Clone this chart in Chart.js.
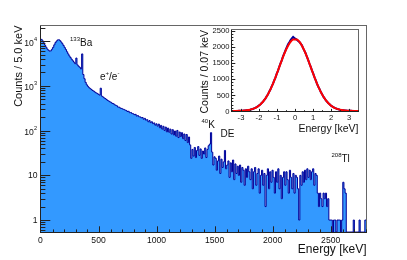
<!DOCTYPE html>
<html>
<head>
<meta charset="utf-8">
<script src="https://cdn.jsdelivr.net/npm/chart.js@4/dist/chart.umd.min.js"></script>
<style>
  html, body { margin: 0; padding: 0; background: #fff; }
  #wrap { position: relative; width: 407px; height: 260px; }
  #wrap canvas { position: absolute; left: 0; top: 0; }
</style>
</head>
<body>
<div id="wrap">
  <canvas id="spectrum" width="407" height="260"></canvas>
  <canvas id="inset" width="407" height="260"></canvas>
</div>
<script>
// main spectrum, 10 keV bins starting at 0 keV (values are counts / 5.0 keV)
const binWidth = 10;
const spectrumCounts = [
  11000, 10200, 9200, 8200, 7400, 6700, 6300, 6000, 6100, 6600,
  7300, 8300, 9300, 10100, 10700, 10800, 10300, 9600, 8800, 8000,
  7200, 6500, 5800, 5200, 4700, 4300, 3950, 3650, 3400, 3150,
  4200, 2950, 2750, 2600, 2400, 5200, 1800, 1450, 1200, 1060,
  980, 915, 870, 835, 790, 765, 730, 700, 680, 650,
  625, 890, 590, 568, 540, 520, 498, 472, 458, 440,
  428, 405, 400, 380, 368, 358, 336, 334, 318, 314,
  304, 298, 288, 283, 268, 271, 252, 255, 242, 238,
  228, 231, 212, 217, 205, 203, 194, 196, 180, 188,
  172, 176, 158, 168, 151, 158, 143, 149, 133, 142,
  126, 140, 116, 131, 108, 125, 101, 120, 94, 114,
  92, 108, 84, 105, 80, 98, 75, 101, 70, 93,
  74, 90, 66, 84, 60, 82, 54, 72, 48, 24,
  38, 27, 42, 25, 36, 44, 28, 39, 24, 35,
  30, 41, 25, 38, 46, 50, 90, 33, 17, 26,
  24, 13, 21, 27, 11, 23, 15, 20, 36, 14,
  17, 21, 9, 19, 12, 22, 8, 18, 11, 16,
  10, 17, 7, 15, 13, 6, 14, 9, 16, 12,
  8, 14, 5, 12, 15, 6, 11, 14, 4, 10,
  13, 6, 11, 2, 10, 14, 5, 12, 7, 13,
  9, 4, 12, 7, 14, 5, 10, 3, 9, 12,
  6, 12, 8, 4, 13, 9, 5, 11, 4, 10,
  9, 5, 1, 10, 6, 12, 7, 13, 8, 14,
  9, 13, 8, 12, 14, 6, 11, 10, 4, 2,
  4, 3, 2, 4, 3, 4, 2, 3, 1, 1,
  1, 0, 1, 1, 0, 1, 1, 1, 0, 1,
  7, 5, 4, 0, 0, 0, 0, 0, 0, 1,
  0, 0, 0, 0, 1, 0, 0, 0, 0, 1,
];
const energyMax = 2800;
const xTicks = [0, 500, 1000, 1500, 2000, 2500];
const yTicks = [1, 10, 100, 1000, 10000];
const yMin = 0.54;
const yMax = 21900;

// inset: residual energy, 0.07 keV bins from -3.5 keV
const residStart = -3.5;
const residWidth = 0.07;
const residCounts = [
  2, 0, 1, 3, 2, 5, 4, 8, 9, 13,
  15, 22, 25, 35, 40, 55, 62, 82, 95, 121,
  140, 175, 200, 248, 282, 340, 385, 458, 512, 600,
  668, 765, 845, 955, 1040, 1160, 1250, 1375, 1480, 1575,
  1700, 1795, 1890, 1990, 2075, 2140, 2210, 2260, 2305, 2270,
  2245, 2215, 2180, 2150, 2095, 2045, 1950, 1870, 1790, 1680,
  1585, 1470, 1370, 1255, 1160, 1045, 955, 845, 755, 680,
  588, 525, 445, 395, 330, 290, 240, 210, 168, 145,
  118, 96, 80, 62, 54, 40, 35, 25, 22, 15,
  13, 11, 8, 7, 5, 3, 2, 2, 1, 1,
];
const fitX = [-3.5, -3.3, -3.1, -2.9, -2.7, -2.5, -2.3, -2.1, -1.9, -1.7, -1.5, -1.3,
  -1.1, -0.9, -0.7, -0.5, -0.3, -0.1, 0.1, 0.3, 0.5, 0.7, 0.9, 1.1,
  1.3, 1.5, 1.7, 1.9, 2.1, 2.3, 2.5, 2.7, 2.9, 3.1, 3.3, 3.5];
const fitY = [0.8, 2, 4.5, 9.8, 20, 40, 74, 130, 218, 347, 524, 752,
  1026, 1328, 1632, 1906, 2113, 2226, 2226, 2113, 1906, 1632, 1328, 1026,
  752, 524, 347, 218, 130, 74, 40, 20, 9.8, 4.5, 2, 0.8];
const insetXTicks = [-3, -2, -1, 0, 1, 2, 3];
const insetYTicks = [0, 500, 1000, 1500, 2000, 2500];

const FONT = '"Liberation Sans", Arial, Helvetica, sans-serif';
const font = (px) => `${px}px ${FONT}`;

// text with superscript runs: [[text, isSup], ...]
const drawRich = (ctx, runs, x, y, size) => {
  let cx = x;
  for (const [text, sup] of runs) {
    ctx.font = font(sup ? size * 0.6 : size);
    ctx.fillText(text, cx, sup ? y - size * 0.5 : y);
    cx += ctx.measureText(text).width;
  }
};

const hLine = (ctx, x1, x2, y) => {
  ctx.beginPath();
  ctx.moveTo(x1, Math.round(y) + 0.5);
  ctx.lineTo(x2, Math.round(y) + 0.5);
  ctx.stroke();
};
const vLine = (ctx, x, y1, y2) => {
  ctx.beginPath();
  ctx.moveTo(Math.round(x) + 0.5, y1);
  ctx.lineTo(Math.round(x) + 0.5, y2);
  ctx.stroke();
};

const drawMainAxes = (chart) => {
  const { ctx, chartArea: a, scales: { x, y } } = chart;
  ctx.save();
  ctx.lineWidth = 1;
  ctx.strokeStyle = '#666';
  ctx.strokeRect(a.left - 0.5, a.top - 0.5, a.right - a.left + 1, a.bottom - a.top + 1);
  ctx.strokeStyle = '#222';
  vLine(ctx, a.left - 1, a.top, a.bottom + 1);
  hLine(ctx, a.left - 1, a.right + 1, a.bottom);

  // x ticks (inside)
  for (let e = 0; e <= energyMax; e += 100) {
    const px = x.getPixelForValue(e);
    const len = e % 500 === 0 ? 6.2 : 3.1;
    vLine(ctx, px - (e === 0 ? 1 : 0), a.bottom + 0.5 - len, a.bottom + 0.5);
  }
  // y ticks (log, inside)
  for (let d = -1; d <= 4; d++) {
    for (let m = 1; m <= 9; m++) {
      const v = m * Math.pow(10, d);
      if (v < yMin || v > yMax) continue;
      const py = y.getPixelForValue(v);
      const len = m === 1 ? 9.8 : 4.9;
      hLine(ctx, a.left - 0.5, a.left - 0.5 + len, py);
    }
  }

  ctx.fillStyle = '#111';
  ctx.font = font(8.6);
  ctx.textAlign = 'center';
  ctx.textBaseline = 'alphabetic';
  for (const t of xTicks) ctx.fillText(String(t), x.getPixelForValue(t) - 0.5, 242.5);

  for (const t of yTicks) {
    const py = y.getPixelForValue(t);
    ctx.textBaseline = 'middle';
    if (t < 100) {
      ctx.textAlign = 'right';
      ctx.font = font(8.6);
      ctx.fillText(String(t), 37.5, py + 0.5);
    } else {
      ctx.textAlign = 'right';
      ctx.font = font(8.6);
      ctx.fillText('10', 33.8, py + 2);
      ctx.textAlign = 'left';
      ctx.font = font(5.6);
      ctx.fillText(String(Math.round(Math.log10(t))), 34, py - 2);
    }
  }

  // axis titles
  ctx.textBaseline = 'alphabetic';
  ctx.textAlign = 'right';
  ctx.font = font(12);
  ctx.fillText('Energy [keV]', a.right + 0.5, 252.5);
  ctx.save();
  ctx.translate(22, a.top - 0.5);
  ctx.rotate(-Math.PI / 2);
  ctx.font = font(11);
  ctx.fillText('Counts / 5.0 keV', 0, 0);
  ctx.restore();

  // peak labels
  ctx.textAlign = 'left';
  ctx.fillStyle = '#111';
  drawRich(ctx, [['133', true], ['Ba', false]], 70, 45.5, 10);
  drawRich(ctx, [['e', false], ['+', true], ['/e', false], ['-', true]], 100, 80, 10);
  drawRich(ctx, [['40', true], ['K', false]], 201.5, 128, 10);
  drawRich(ctx, [['DE', false]], 220.5, 136.5, 10);
  drawRich(ctx, [['208', true], ['Tl', false]], 331.5, 161.5, 10);
  ctx.restore();
};

const drawInsetAxes = (chart) => {
  const { ctx, chartArea: a, scales: { x, y } } = chart;
  ctx.save();
  ctx.lineWidth = 1;
  ctx.strokeStyle = '#666';
  ctx.strokeRect(a.left - 0.5, a.top - 0.5, a.right - a.left + 1, a.bottom - a.top + 1);
  ctx.strokeStyle = '#222';
  vLine(ctx, a.left - 1, a.top, a.bottom + 1);
  hLine(ctx, a.left - 1, a.right + 1, a.bottom);

  for (let v = -3.5; v <= 3.5001; v += 0.5) {
    const major = Math.abs(v - Math.round(v)) < 1e-6;
    const px = x.getPixelForValue(v);
    vLine(ctx, px, a.bottom + 0.5 - (major ? 2.6 : 1.3), a.bottom + 0.5);
  }
  for (let v = 0; v <= 2500; v += 100) {
    const py = y.getPixelForValue(v);
    hLine(ctx, a.left - 0.5, a.left - 0.5 + (v % 500 === 0 ? 3.8 : 1.9), py);
  }

  ctx.fillStyle = '#111';
  ctx.font = font(7.6);
  ctx.textAlign = 'center';
  ctx.textBaseline = 'alphabetic';
  for (const t of insetXTicks) ctx.fillText(String(t), x.getPixelForValue(t), 119.5);
  ctx.textAlign = 'right';
  ctx.textBaseline = 'middle';
  for (const t of insetYTicks) ctx.fillText(String(t), 229.5, y.getPixelForValue(t) + 0.5);

  ctx.textBaseline = 'alphabetic';
  ctx.textAlign = 'right';
  ctx.font = font(10.5);
  ctx.fillText('Energy [keV]', a.right + 0.5, 131.5);
  ctx.save();
  ctx.translate(208, a.top);
  ctx.rotate(-Math.PI / 2);
  ctx.fillText('Counts / 0.07 keV', 0, 0);
  ctx.restore();
  ctx.restore();
};

// main histogram: stepped outline, filled to the axis
const spectrumPoints = spectrumCounts.map((c, i) => ({ x: i * binWidth, y: c > 0 ? c : yMin }));
spectrumPoints.push({ x: energyMax, y: spectrumPoints[spectrumPoints.length - 1].y });

new Chart(document.getElementById('spectrum'), {
  type: 'line',
  data: {
    datasets: [{
      data: spectrumPoints,
      stepped: 'before',
      borderColor: 'rgb(0, 0, 153)',
      borderWidth: 1,
      backgroundColor: 'rgb(51, 153, 255)',
      fill: 'start',
      pointRadius: 0,
    }],
  },
  options: {
    responsive: false,
    animation: false,
    devicePixelRatio: 1,
    layout: { padding: { left: 41, right: 41, top: 26, bottom: 28 } },
    plugins: { legend: { display: false }, tooltip: { enabled: false } },
    scales: {
      x: { type: 'linear', min: 0, max: energyMax, display: false },
      y: { type: 'logarithmic', min: yMin, max: yMax, display: false },
    },
  },
  plugins: [{ id: 'mainAxes', afterDatasetsDraw: drawMainAxes }],
});

const residPoints = residCounts.map((c, i) => ({ x: residStart + residWidth * (i + 0.5), y: c }));
const fitPoints = fitX.map((v, i) => ({ x: v, y: fitY[i] }));

new Chart(document.getElementById('inset'), {
  type: 'line',
  data: {
    datasets: [
      {
        data: fitPoints,
        borderColor: 'rgb(255, 0, 0)',
        borderWidth: 2,
        cubicInterpolationMode: 'monotone',
        pointRadius: 0,
        fill: false,
      },
      {
        data: residPoints,
        borderColor: 'rgb(0, 0, 153)',
        borderWidth: 2,
        pointRadius: 0,
        fill: false,
      },
    ],
  },
  options: {
    responsive: false,
    animation: false,
    devicePixelRatio: 1,
    layout: { padding: { left: 232, right: 49, top: 30, bottom: 149 } },
    plugins: { legend: { display: false }, tooltip: { enabled: false } },
    scales: {
      x: { type: 'linear', min: -3.5, max: 3.5, display: false },
      y: { type: 'linear', min: 0, max: 2520, display: false },
    },
  },
  plugins: [{ id: 'insetAxes', afterDatasetsDraw: drawInsetAxes }],
});
</script>
</body>
</html>
